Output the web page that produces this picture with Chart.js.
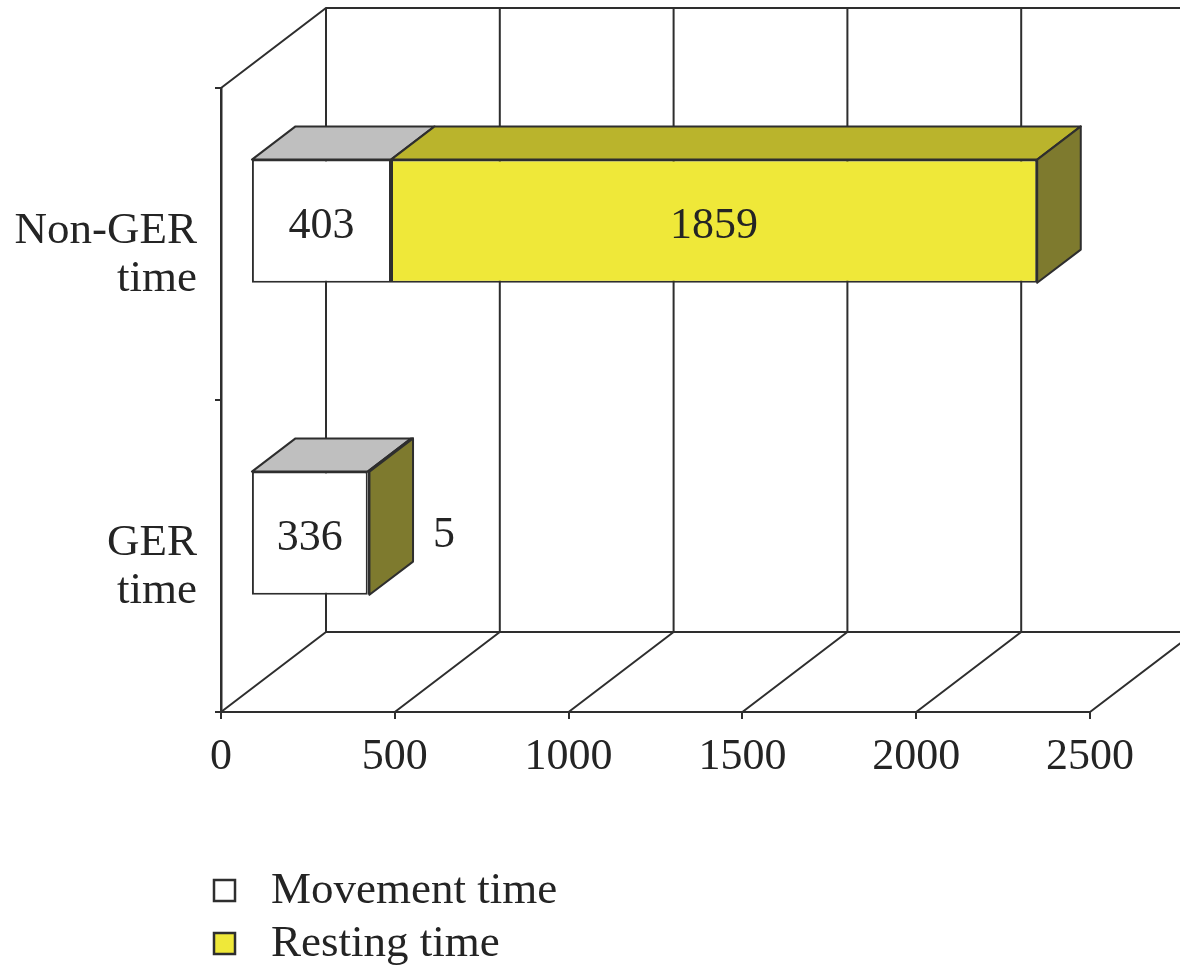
<!DOCTYPE html>
<html>
<head>
<meta charset="utf-8">
<script src="https://cdn.jsdelivr.net/npm/chart.js@4.4.1/dist/chart.umd.min.js"></script>
<style>
  html, body { margin: 0; padding: 0; background: #ffffff; }
  #wrap { width: 1180px; height: 971px; }
</style>
</head>
<body>
<div id="wrap"><canvas id="chart" width="1180" height="971"></canvas></div>
<script>
// ---- data ----
const categories = [['Non-GER', 'time'], ['GER', 'time']];
const seriesNames = ['Movement time', 'Resting time'];
const movementTime = [403, 336];
const restingTime = [1859, 5];
const xAxisMin = 0;
const xAxisMax = 2500;
const xAxisStep = 500;

// ---- look ----
const FONT = '"Liberation Serif", "Times New Roman", serif';
const INK = '#242424';
const LINE = '#2e2e2e';
const faces = [
  { front: '#ffffff', top: '#bfbfbf', side: '#8a8a8a' },
  { front: '#efe839', top: '#bab42c', side: '#7e7a2e' }
];

// oblique depth of the floor / walls, and where the boxes sit within it
const WALL_DX = 105;
const WALL_DY = -80;
const BAR_NEAR = 0.285;
const BAR_FAR = 0.70;

const PLOT_LEFT = 221;
const PLOT_TOP = 88;
const PLOT_RIGHT_GAP = 90;
const PLOT_BOTTOM = 712;
const CANVAS_H = 971;

function face(ctx, pts, fill) {
  ctx.beginPath();
  ctx.moveTo(pts[0][0], pts[0][1]);
  for (let i = 1; i < pts.length; i++) ctx.lineTo(pts[i][0], pts[i][1]);
  ctx.closePath();
  ctx.fillStyle = fill;
  ctx.fill();
  ctx.stroke();
}

// Draws the back wall, side wall and floor, then shifts the bars into depth
// and adds their top / side faces plus the value labels.
const obliqueBars = {
  id: 'obliqueBars',
  beforeDatasetsDraw(chart) {
    const { ctx, chartArea: a, scales: { x } } = chart;
    const tickValues = x.ticks.map(t => t.value);
    const topY = a.top + WALL_DY;
    const floorY = a.bottom + WALL_DY;
    const back = v => x.getPixelForValue(v) + WALL_DX;

    ctx.save();
    ctx.strokeStyle = LINE;
    ctx.lineWidth = 2;
    ctx.lineCap = 'butt';
    ctx.beginPath();
    // side wall top edge and back wall top edge
    ctx.moveTo(a.left, a.top);
    ctx.lineTo(back(x.min), topY);
    ctx.lineTo(back(x.max), topY);
    // back edge of the floor
    ctx.moveTo(back(x.min), floorY);
    ctx.lineTo(back(x.max), floorY);
    tickValues.forEach(v => {
      const px = x.getPixelForValue(v);
      // floor line running into depth
      ctx.moveTo(px, a.bottom);
      ctx.lineTo(px + WALL_DX, floorY);
      // gridline on the back wall
      ctx.moveTo(px + WALL_DX, floorY);
      ctx.lineTo(px + WALL_DX, topY);
    });
    ctx.stroke();
    ctx.restore();

    ctx.save();
    ctx.translate(WALL_DX * BAR_NEAR, WALL_DY * BAR_NEAR);
  },
  afterDatasetsDraw(chart) {
    const { ctx } = chart;
    const dx = WALL_DX * (BAR_FAR - BAR_NEAR);
    const dy = WALL_DY * (BAR_FAR - BAR_NEAR);
    const nCat = chart.data.labels.length;

    ctx.strokeStyle = LINE;
    ctx.lineWidth = 2;
    ctx.lineJoin = 'round';

    for (let i = 0; i < nCat; i++) {
      let outer = -1;
      chart.data.datasets.forEach((ds, d) => { if (ds.data[i] > 0) outer = d; });
      chart.data.datasets.forEach((ds, d) => {
        const el = chart.getDatasetMeta(d).data[i];
        if (!el || !(ds.data[i] > 0)) return;
        const x0 = Math.min(el.base, el.x), x1 = Math.max(el.base, el.x);
        const top = el.y - el.height / 2, bottom = el.y + el.height / 2;
        face(ctx, [[x0, top], [x1, top], [x1 + dx, top + dy], [x0 + dx, top + dy]], faces[d].top);
        if (d === outer) {
          face(ctx, [[x1, top], [x1 + dx, top + dy], [x1 + dx, bottom + dy], [x1, bottom]], faces[d].side);
        }
      });
    }

    // value labels
    ctx.font = '44px ' + FONT;
    ctx.fillStyle = INK;
    ctx.textBaseline = 'middle';
    chart.data.datasets.forEach((ds, d) => {
      chart.getDatasetMeta(d).data.forEach((el, i) => {
        const v = ds.data[i];
        const txt = String(v);
        const w = Math.abs(el.x - el.base);
        const tw = ctx.measureText(txt).width;
        if (w > tw + 12) {
          ctx.textAlign = 'center';
          ctx.fillText(txt, (el.x + el.base) / 2, el.y + 5);
        } else {
          ctx.textAlign = 'left';
          ctx.fillText(txt, Math.max(el.x, el.base) + dx + 20, el.y + 2);
        }
      });
    });
    ctx.restore();
  },
  afterDraw(chart) {
    // legend stacked below the axis
    const { ctx } = chart;
    const rows = [891, 944];
    ctx.save();
    ctx.font = '45px ' + FONT;
    ctx.textBaseline = 'middle';
    ctx.textAlign = 'left';
    chart.data.datasets.forEach((ds, d) => {
      const cy = rows[d];
      ctx.fillStyle = ds.backgroundColor;
      ctx.strokeStyle = LINE;
      ctx.lineWidth = 2.5;
      ctx.fillRect(214, cy - 11, 21, 21);
      ctx.strokeRect(214, cy - 11, 21, 21);
      ctx.fillStyle = INK;
      ctx.fillText(ds.label, 271, cy);
    });
    ctx.restore();
  }
};

new Chart(document.getElementById('chart'), {
  type: 'bar',
  data: {
    labels: categories,
    datasets: [
      {
        label: seriesNames[0],
        data: movementTime,
        backgroundColor: faces[0].front,
        borderColor: LINE,
        borderWidth: 2,
        borderSkipped: false
      },
      {
        label: seriesNames[1],
        data: restingTime,
        backgroundColor: faces[1].front,
        borderColor: LINE,
        borderWidth: 2,
        borderSkipped: false
      }
    ]
  },
  options: {
    indexAxis: 'y',
    responsive: false,
    animation: false,
    devicePixelRatio: 1,
    layout: { padding: { top: PLOT_TOP, right: PLOT_RIGHT_GAP, left: 0, bottom: 0 } },
    datasets: { bar: { categoryPercentage: 1, barPercentage: 0.395, clip: false } },
    plugins: {
      legend: { display: false },
      tooltip: { enabled: false }
    },
    scales: {
      x: {
        type: 'linear',
        stacked: true,
        min: xAxisMin,
        max: xAxisMax,
        ticks: {
          stepSize: xAxisStep,
          format: { useGrouping: false },
          maxRotation: 0,
          autoSkip: false,
          padding: 12,
          color: INK,
          font: { family: FONT, size: 44 }
        },
        grid: { display: true, drawOnChartArea: false, drawTicks: true, tickLength: 7, color: LINE, lineWidth: 2 },
        border: { display: true, color: LINE, width: 2 },
        afterFit(axis) { axis.height = CANVAS_H - PLOT_BOTTOM; }
      },
      y: {
        type: 'category',
        stacked: true,
        offset: true,
        ticks: {
          padding: 18,
          labelOffset: 11,
          color: INK,
          font: { family: FONT, size: 45, lineHeight: 1.07 }
        },
        grid: { display: true, offset: true, drawOnChartArea: false, drawTicks: true, tickLength: 6, color: LINE, lineWidth: 2 },
        border: { display: true, color: LINE, width: 2.5 },
        afterFit(axis) { axis.width = PLOT_LEFT; }
      }
    }
  },
  plugins: [obliqueBars]
});
</script>
</body>
</html>
